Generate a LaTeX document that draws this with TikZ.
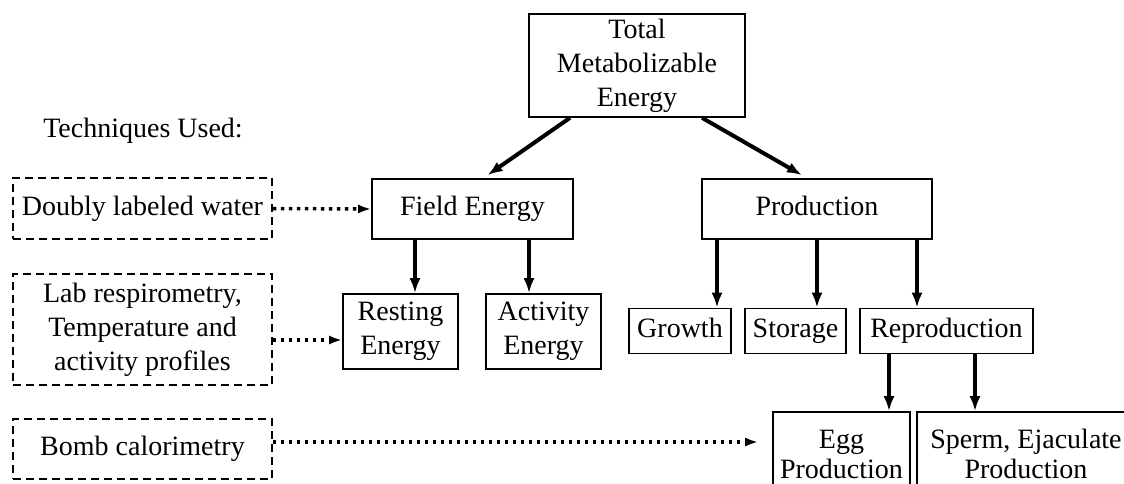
\documentclass[tikz,border=0pt]{standalone}
\usepackage{fontspec}
\setmainfont{Liberation Serif}
\usetikzlibrary{arrows.meta}

\begin{document}
\begin{tikzpicture}[x=1pt, y=-1pt,
                    box/.style={rectangle, draw, line width=1.6pt, inner sep=0pt, align=center},
                    oneline/.style={box, text height=19pt, text depth=6pt},
                    technique/.style={box, dash pattern=on 8pt off 5pt},
                    flow/.style={line width=4pt, -{Latex[length=15pt, width=11pt]}},
                    measure/.style={line width=3.5pt, dash pattern=on 3.5pt off 4.5pt,
                                    -{Latex[length=13pt, width=9pt]}},
                    font=\fontsize{28pt}{34pt}\selectfont]
  \useasboundingbox (0, 0) rectangle (1124, 483);

  % Energy budget.
  \node at (637, 65.5) [box, name=Total, minimum width=216, minimum height=103] {Total\\Metabolizable\\Energy};
  \node at (472.5, 209) [oneline, name=Field, minimum width=201, minimum height=60] {Field Energy};
  \node at (817, 209) [oneline, name=Production, minimum width=230, minimum height=60] {Production};
  \node at (400.5, 331.5) [box, name=Resting, minimum width=115, minimum height=75] {Resting\\Energy};
  \node at (543.5, 331.5) [box, name=Activity, minimum width=115, minimum height=75] {Activity\\Energy};
  \node at (680, 331) [oneline, name=Growth, minimum width=102, minimum height=45] {Growth};
  \node at (795.5, 331) [oneline, name=Storage, minimum width=101, minimum height=45] {Storage};
  \node at (946.5, 331) [oneline, name=Reproduction, minimum width=173, minimum height=45] {Reproduction};
  \node at (841.5, 454) [box, name=Egg, minimum width=137, minimum height=84,
                         font=\fontsize{28pt}{30pt}\selectfont] {Egg\\Production};
  \node at (1026, 454) [box, name=Sperm, minimum width=218, minimum height=84,
                        font=\fontsize{28pt}{30pt}\selectfont] {Sperm, Ejaculate\\Production};

  % Techniques.
  \node at (143, 131) [name=Techniques] {Techniques Used:};
  \node at (142.5, 208.5) [technique, name=Doubly, minimum width=259, minimum height=61] {Doubly labeled water};
  \node at (142.5, 329.5) [technique, name=Lab, minimum width=259, minimum height=111] {Lab respirometry,\\Temperature and\\activity profiles};
  \node at (142.5, 449) [technique, name=Bomb, minimum width=259, minimum height=60] {Bomb calorimetry};

  % Partitioning of energy.
  \draw [flow] ([xshift=-67pt]Total.south)
               to ([xshift=15pt, yshift=3pt]Field.north);
  \draw [flow] ([xshift=65pt]Total.south)
               to ([xshift=-15pt, yshift=3pt]Production.north);
  \draw [flow] ([xshift=-57.5pt]Field.south)
               to ([xshift=14.5pt]Resting.north);
  \draw [flow] ([xshift=56.5pt]Field.south)
               to ([xshift=-14.5pt]Activity.north);
  \draw [flow] ([xshift=-100pt]Production.south)
               to ([xshift=37pt]Growth.north);
  \draw [flow] (Production.south)
               to ([xshift=21.5pt]Storage.north);
  \draw [flow] ([xshift=100pt]Production.south)
               to ([xshift=-29.5pt]Reproduction.north);
  \draw [flow] ([xshift=-57.5pt]Reproduction.south)
               to ([xshift=47.5pt]Egg.north);
  \draw [flow] ([xshift=28.5pt]Reproduction.south)
               to ([xshift=-51pt]Sperm.north);

  % Measurements.
  \coordinate (labline) at ([yshift=-10.5pt]Lab.east);
  \coordinate (bombline) at ([yshift=7pt]Bomb.east);
  \draw [measure] (Doubly.east)
                  to (Field.west);
  \draw [measure] (labline)
                  to (labline -| Resting.west);
  \draw [measure, shorten >=14pt] (bombline)
                  to (bombline -| Egg.west);
\end{tikzpicture}
\end{document}
